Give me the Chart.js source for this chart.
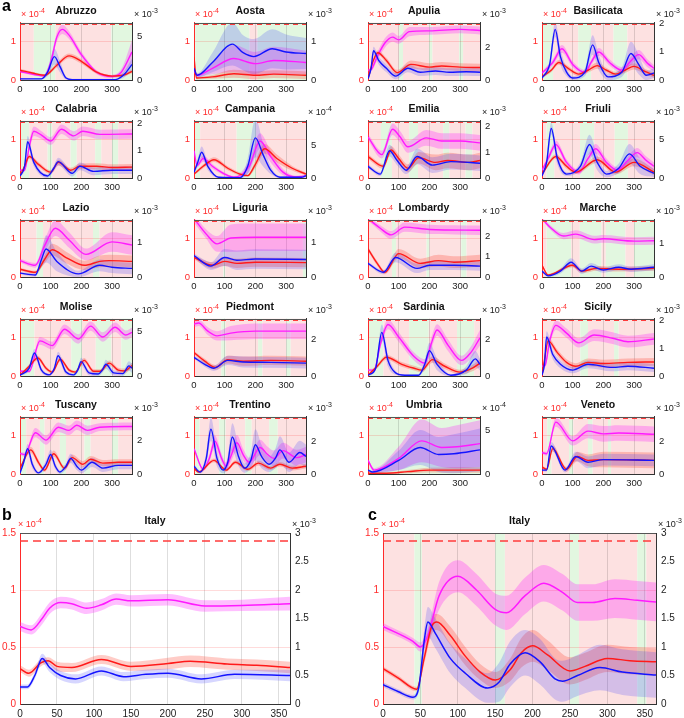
<!DOCTYPE html>
<html>
<head>
<meta charset="utf-8">
<script src="https://cdn.jsdelivr.net/npm/chart.js@4/dist/chart.umd.min.js"></script>
<style>
  body { margin: 0; width: 684px; height: 718px; position: relative; overflow: hidden; background: #fff;
         font-family: "Liberation Sans", Arial, sans-serif; }
  canvas { position: absolute; }
  .txt { position: absolute; white-space: nowrap; line-height: 1; }
  .letter { font-weight: bold; font-size: 16px; }
  .title { font-weight: bold; text-align: center; color: #111; }
  .exp sup { font-size: 7px; vertical-align: 4px; }
</style>
</head>
<body>
<script>
// ---- data: [day, value (x10^-4 on left axis), band half-width] ----
const XMAX = 365;
const threshold = 1.43;

const abruzzo_red = [[0,.25,.04],[40,.18,.03],[80,.12,.03],[120,.38,.06],[160,.62,.06],[200,.48,.06],[250,.2,.04],[300,.1,.03],[340,.13,.04],[365,.22,.05]];
const abruzzo_blue = [[0,.03,.02],[70,.03,.02],[90,.2,.1],[112,.6,.2],[130,.35,.15],[150,.05,.04],[170,.01,.02],[310,.01,.02],[340,.15,.08],[365,.4,.15]];
const abruzzo_mag = [[0,.22,.03],[40,.15,.03],[80,.11,.03],[100,.45,.1],[120,1.1,.12],[138,1.3,.12],[160,1.15,.1],[200,.65,.08],[250,.2,.05],[300,.09,.04],[330,.2,.08],[365,.72,.3]];
const abruzzo_bg = [[0,45,'r'],[45,115,'g'],[115,298,'r'],[298,365,'g']];

const aosta_red = [[0,.58,.05],[8,.05,.03],[60,.08,.05],[130,.16,.1],[200,.12,.1],[260,.15,.1],[365,.12,.1]];
const aosta_blue = [[0,.3,.05],[10,.12,.05],[60,.45,.25],[125,.92,.55],[160,.7,.45],[195,.6,.45],[255,.8,.5],[300,.72,.45],[365,.68,.4]];
const aosta_mag = [[0,.25,.04],[10,.12,.04],[60,.3,.15],[130,.55,.35],[200,.42,.3],[260,.5,.35],[365,.45,.3]];
const aosta_bg = [[0,4,'r'],[4,181,'g'],[181,207,'r'],[207,365,'g']];

const apulia_red = [[0,.02,.02],[15,.45,.05],[32,.7,.06],[60,.5,.07],[95,.19,.07],[140,.4,.1],[200,.33,.1],[240,.36,.1],[300,.33,.1],[365,.32,.1]];
const apulia_blue = [[0,.03,.02],[10,.3,.05],[18,.75,.1],[35,.5,.1],[60,.3,.1],[90,.1,.08],[130,.3,.1],[170,.2,.1],[220,.23,.1],[265,.2,.1],[320,.21,.1],[365,.2,.1]];
const apulia_mag = [[0,.25,.04],[10,.27,.05],[30,.6,.1],[55,.95,.12],[80,1.1,.12],[100,1.03,.1],[135,1.24,.12],[200,1.26,.1],[300,1.3,.1],[365,1.27,.1]];
const apulia_bg = [[0,5,'g'],[5,101,'r'],[101,114,'g'],[114,199,'r'],[199,210,'g'],[210,297,'r'],[297,310,'g'],[310,365,'r']];

const basilicata_red = [[0,.08,.03],[30,.25,.05],[55,.45,.06],[85,.3,.06],[120,.15,.05],[150,.25,.06],[180,.37,.08],[210,.25,.06],[240,.15,.06],[270,.25,.07],[300,.35,.08],[335,.22,.07],[365,.12,.06]];
const basilicata_blue = [[0,.05,.03],[25,.4,.1],[43,1.3,.2],[60,.6,.2],[80,.2,.1],[100,.05,.05],[140,.2,.1],[165,.9,.25],[185,.45,.2],[215,.08,.08],[260,.2,.12],[290,.68,.3],[315,.4,.25],[340,.12,.12],[365,.18,.12]];
const basilicata_mag = [[0,.18,.04],[35,.45,.08],[65,.8,.1],[100,.4,.08],[140,.2,.06],[160,.45,.08],[185,.72,.1],[220,.45,.08],[260,.25,.08],[285,.45,.1],[315,.65,.12],[345,.42,.1],[365,.3,.08]];
const basilicata_bg = [[0,3,'r'],[3,36,'g'],[36,118,'r'],[118,160,'g'],[160,233,'r'],[233,278,'g'],[278,365,'r']];

const calabria_red = [[0,.05,.03],[15,.3,.05],[30,.55,.06],[60,.35,.06],[100,.15,.05],[125,.4,.07],[165,.2,.06],[195,.3,.07],[250,.3,.08],[300,.27,.08],[365,.28,.08]];
const calabria_blue = [[0,.05,.03],[15,.3,.08],[25,.93,.15],[45,.4,.1],[90,.05,.05],[110,.25,.08],[125,.42,.1],[170,.12,.08],[195,.3,.1],[240,.17,.1],[300,.2,.1],[365,.2,.1]];
const calabria_mag = [[0,.2,.03],[15,.2,.04],[30,.8,.12],[45,1.2,.12],[70,1.1,.1],[100,.95,.1],[135,1.25,.12],[175,1.08,.12],[205,1.2,.12],[260,1.12,.12],[365,1.13,.12]];
const calabria_bg = [[0,30,'g'],[30,90,'r'],[90,105,'g'],[105,165,'r'],[165,185,'g'],[185,245,'r'],[245,265,'g'],[265,300,'r'],[300,320,'g'],[320,365,'r']];

const campania_red = [[0,.1,.03],[30,.3,.05],[65,.47,.06],[110,.25,.05],[150,.1,.04],[175,.06,.03],[200,.35,.1],[230,.75,.12],[270,.5,.1],[320,.25,.06],[365,.1,.04]];
const campania_blue = [[0,.15,.05],[12,.4,.1],[25,.66,.15],[45,.3,.1],[80,.02,.02],[150,.01,.02],[175,.3,.2],[200,1.03,.5],[225,.6,.3],[250,.2,.1],[280,.02,.03],[350,.02,.03],[365,.06,.04]];
const campania_mag = [[0,.7,.05],[10,.32,.05],[30,.5,.08],[60,.3,.06],[100,.1,.04],[130,.02,.03],[180,.3,.15],[215,.95,.2],[250,.55,.15],[290,.15,.08],[330,.03,.03],[365,.05,.03]];
const campania_bg = [[0,20,'g'],[20,139,'r'],[139,202,'g'],[202,365,'r']];

const emilia_red = [[0,.55,.06],[50,.3,.06],[75,.72,.1],[100,.5,.1],[130,.25,.1],[165,.52,.15],[220,.4,.2],[260,.45,.2],[330,.4,.2],[365,.45,.2]];
const emilia_blue = [[0,.3,.05],[40,.1,.05],[70,.7,.15],[95,.45,.12],[125,.2,.1],[160,.55,.2],[210,.33,.2],[270,.42,.2],[365,.38,.2]];
const emilia_mag = [[0,1.05,.08],[45,.6,.1],[80,1.25,.15],[105,1.05,.15],[130,.8,.15],[190,1.03,.2],[240,.95,.2],[300,.95,.2],[365,.9,.2]];
const emilia_bg = [[0,42,'r'],[42,78,'g'],[78,134,'r'],[134,163,'g'],[163,245,'r'],[245,265,'g'],[265,318,'r'],[318,340,'g'],[340,365,'r']];

const friuli_red = [[0,.1,.03],[45,.55,.06],[80,.3,.06],[110,.15,.05],[180,.47,.08],[240,.15,.06],[300,.4,.1],[365,.15,.08]];
const friuli_blue = [[0,.05,.03],[15,.4,.1],[30,1.27,.15],[50,.5,.15],[80,.1,.05],[125,.3,.1],[155,.86,.25],[180,.4,.2],[210,.1,.08],[250,.25,.12],[285,.62,.25],[320,.3,.2],[365,.12,.1]];
const friuli_mag = [[0,.2,.04],[20,.5,.08],[45,.86,.1],[80,.4,.08],[120,.15,.06],[150,.5,.1],[175,.75,.12],[210,.4,.1],[245,.2,.08],[280,.45,.1],[310,.65,.12],[340,.45,.1],[365,.3,.1]];
const friuli_bg = [[0,15,'r'],[15,40,'g'],[40,124,'r'],[124,170,'g'],[170,237,'r'],[237,280,'g'],[280,365,'r']];

const lazio_red = [[0,.2,.04],[50,.12,.04],[80,.45,.1],[105,.7,.15],[150,.5,.15],[210,.3,.12],[260,.4,.15],[290,.42,.15],[365,.4,.15]];
const lazio_blue = [[0,.1,.03],[50,.05,.04],[70,.45,.2],[85,.72,.35],[120,.4,.25],[190,.08,.08],[260,.3,.15],[300,.25,.15],[365,.22,.15]];
const lazio_mag = [[0,.42,.05],[50,.3,.06],[80,.8,.15],[115,1.25,.2],[160,.95,.2],[215,.58,.15],[300,.9,.25],[365,.82,.25]];
const lazio_bg = [[0,54,'r'],[54,75,'g'],[75,238,'r'],[238,259,'g'],[259,365,'r']];

const liguria_red = [[0,.5,.05],[60,.3,.08],[100,.4,.12],[140,.35,.12],[200,.38,.12],[365,.37,.12]];
const liguria_blue = [[0,.55,.05],[55,.28,.1],[100,.5,.22],[140,.43,.25],[200,.46,.25],[365,.45,.25]];
const liguria_mag = [[0,1.5,.1],[40,1.1,.12],[75,.85,.2],[120,1.0,.35],[200,1.02,.35],[365,1.02,.35]];
const liguria_bg = [[0,96,'r'],[96,102,'g'],[102,355,'r'],[355,365,'g']];

const lombardy_red = [[0,.72,.05],[30,.35,.06],[55,.12,.05],[100,.6,.12],[170,.35,.12],[230,.42,.15],[280,.38,.15],[365,.42,.15]];
const lombardy_blue = [[0,.35,.04],[50,.12,.05],[90,.5,.12],[160,.22,.12],[200,.3,.12],[280,.3,.12],[365,.28,.12]];
const lombardy_mag = [[0,1.5,.05],[40,1.25,.08],[75,1.08,.1],[120,1.28,.12],[200,1.22,.12],[365,1.2,.12]];
const lombardy_bg = [[0,78,'r'],[78,92,'g'],[92,191,'r'],[191,200,'g'],[200,304,'r'],[304,321,'g'],[321,365,'r']];

const marche_red = [[0,.3,.03],[20,.05,.03],[100,.3,.05],[130,.15,.05],[180,.22,.06],[250,.2,.06],[365,.22,.06]];
const marche_blue = [[0,.15,.03],[20,.03,.03],[60,.15,.06],[95,.38,.1],[130,.15,.07],[160,.28,.08],[200,.18,.07],[250,.25,.08],[290,.2,.07],[365,.25,.08]];
const marche_mag = [[0,1.5,.05],[30,1.25,.06],[70,1.05,.08],[110,1.1,.1],[170,.96,.1],[200,.98,.1],[300,.92,.1],[365,.93,.1]];
const marche_bg = [[0,15,'r'],[15,95,'g'],[95,123,'r'],[123,194,'g'],[194,208,'r'],[208,272,'g'],[272,300,'r'],[300,365,'g']];

const molise_red = [[0,.02,.02],[30,.25,.05],[58,.46,.06],[85,.2,.05],[105,.1,.04],[131,.43,.06],[160,.15,.05],[180,.1,.04],[209,.4,.06],[240,.12,.05],[260,.12,.05],[291,.33,.07],[320,.15,.06],[340,.13,.06],[365,.27,.07]];
const molise_blue = [[0,.02,.02],[30,.2,.06],[47,.59,.1],[70,.15,.06],[95,.03,.03],[112,.2,.06],[124,.52,.1],[150,.1,.06],[175,.03,.03],[188,.15,.06],[199,.37,.1],[225,.08,.06],[255,.05,.05],[268,.15,.07],[280,.3,.12],[305,.08,.07],[335,.06,.06],[355,.26,.12],[365,.2,.12]];
const molise_mag = [[0,.12,.03],[30,.12,.04],[65,.9,.1],[105,.78,.1],[145,1.2,.12],[190,.95,.12],[230,1.28,.12],[270,1.0,.12],[310,1.25,.12],[345,1.05,.12],[365,1.12,.12]];
const molise_bg = [[0,47,'g'],[47,167,'r'],[167,202,'g'],[202,247,'r'],[247,298,'g'],[298,330,'r'],[330,365,'g']];

const piedmont_red = [[0,.6,.04],[35,.38,.06],[70,.22,.06],[110,.42,.1],[160,.38,.12],[250,.4,.12],[365,.38,.12]];
const piedmont_blue = [[0,.48,.04],[35,.3,.06],[65,.2,.07],[110,.4,.12],[160,.36,.14],[250,.35,.14],[365,.33,.14]];
const piedmont_mag = [[0,1.33,.08],[15,1.36,.08],[45,1.15,.1],[75,1.03,.12],[120,1.1,.18],[200,1.15,.2],[365,1.15,.2]];
const piedmont_bg = [[0,89,'r'],[89,103,'g'],[103,209,'r'],[209,223,'g'],[223,301,'r'],[301,315,'g'],[315,365,'r']];

const sardinia_red = [[0,.02,.02],[30,.25,.05],[60,.48,.06],[110,.3,.06],[150,.2,.06],[175,.15,.06],[210,.42,.08],[250,.25,.07],[300,.1,.06],[340,.2,.08],[365,.33,.1]];
const sardinia_blue = [[0,.02,.02],[25,.2,.06],[45,1.12,.2],[65,.4,.15],[90,.08,.05],[120,.02,.02],[165,.02,.02],[185,.3,.12],[200,.65,.2],[225,.3,.15],[270,.02,.03],[320,.15,.1],[350,.44,.2],[365,.3,.15]];
const sardinia_mag = [[0,.15,.03],[20,.15,.04],[40,.8,.1],[65,1.32,.12],[100,1.0,.12],[150,.5,.1],[185,.33,.1],[205,.8,.15],[225,1.18,.15],[260,.8,.15],[305,.4,.12],[335,.6,.15],[365,.98,.2]];
const sardinia_bg = [[0,50,'g'],[50,134,'r'],[134,198,'g'],[198,290,'r'],[290,346,'g'],[346,365,'r']];

const sicily_red = [[0,.02,.02],[8,.4,.06],[20,.9,.08],[50,.6,.08],[80,.35,.08],[110,.25,.08],[150,.35,.1],[200,.32,.1],[280,.35,.1],[365,.36,.1]];
const sicily_blue = [[0,.02,.02],[8,.3,.08],[15,1.0,.15],[35,.55,.12],[60,.3,.1],[100,.15,.08],[150,.3,.1],[230,.22,.1],[280,.25,.1],[365,.2,.1]];
const sicily_mag = [[0,.25,.04],[10,.27,.05],[25,.9,.12],[45,1.3,.12],[80,1.1,.12],[120,.85,.12],[170,1.05,.15],[230,.97,.15],[280,.88,.15],[365,.95,.15]];
const sicily_bg = [[0,125,'r'],[125,150,'g'],[150,235,'r'],[235,250,'g'],[250,365,'r']];

const tuscany_red = [[0,.15,.03],[35,.62,.08],[60,.3,.07],[80,.1,.05],[110,.52,.08],[145,.15,.06],[170,.42,.08],[205,.25,.08],[230,.38,.08],[270,.28,.08],[320,.3,.08],[365,.3,.08]];
const tuscany_blue = [[0,.02,.02],[12,.3,.08],[25,.65,.12],[40,.25,.1],[60,.03,.03],[85,.25,.1],[100,.5,.12],[115,.2,.08],[130,.05,.05],[150,.2,.08],[165,.4,.12],[185,.2,.1],[200,.1,.08],[235,.3,.12],[270,.15,.1],[320,.22,.1],[365,.22,.1]];
const tuscany_mag = [[0,.53,.04],[15,.5,.05],[50,1.06,.12],[85,.87,.12],[125,1.2,.12],[160,1.12,.12],[185,1.25,.12],[220,1.12,.12],[260,1.2,.1],[365,1.22,.1]];
const tuscany_bg = [[0,20,'g'],[20,65,'r'],[65,80,'g'],[80,130,'r'],[130,150,'g'],[150,210,'r'],[210,230,'g'],[230,300,'r'],[300,320,'g'],[320,365,'r']];

const trentino_red = [[0,.15,.03],[15,.05,.03],[65,.35,.05],[105,.1,.04],[135,.3,.05],[175,.12,.05],[210,.28,.06],[250,.15,.05],[280,.25,.06],[320,.15,.06],[365,.2,.06]];
const trentino_blue = [[0,.2,.05],[20,.05,.04],[40,.4,.15],[55,1.15,.3],[75,.4,.2],[95,.1,.08],[110,.3,.15],[125,.95,.35],[145,.45,.25],[165,.15,.12],[185,.35,.2],[200,.75,.4],[220,.45,.3],[245,.25,.2],[265,.4,.25],[280,.62,.35],[310,.3,.25],[345,.55,.3],[365,.45,.3]];
const trentino_mag = [[0,.65,.05],[30,.12,.04],[50,.4,.1],[68,.84,.15],[90,.4,.12],[105,.2,.1],[120,.45,.15],[140,.8,.2],[160,.5,.15],[180,.3,.12],[215,.68,.2],[240,.5,.2],[260,.4,.2],[290,.6,.2],[335,.42,.2],[365,.5,.2]];
const trentino_bg = [[0,18,'g'],[18,82,'r'],[82,103,'g'],[103,167,'r'],[167,188,'g'],[188,245,'r'],[245,273,'g'],[273,365,'r']];

const umbria_red = [[0,.02,.02],[60,.02,.02],[130,.06,.04],[200,.1,.06],[365,.1,.07]];
const umbria_blue = [[0,.1,.03],[15,.05,.04],[100,.35,.25],[170,.68,.45],[230,.5,.45],[280,.52,.5],[365,.62,.55]];
const umbria_mag = [[0,.35,.04],[20,.1,.05],[100,.4,.3],[175,.85,.55],[240,.68,.5],[290,.7,.55],[365,.78,.6]];
const umbria_bg = [[0,365,'g']];

const veneto_red = [[0,.18,.04],[15,.12,.04],[35,.65,.08],[80,.12,.06],[115,.45,.12],[150,.35,.15],[200,.37,.2],[365,.35,.2]];
const veneto_blue = [[0,.1,.03],[15,.1,.04],[30,.72,.1],[75,.1,.06],[110,.45,.12],[150,.3,.15],[200,.37,.15],[365,.35,.15]];
const veneto_mag = [[0,.55,.04],[15,.52,.05],[45,1.33,.12],[100,.85,.12],[150,1.1,.18],[200,1.03,.2],[250,1.05,.2],[365,1.02,.2]];
const veneto_bg = [[0,17,'r'],[17,31,'g'],[31,88,'r'],[88,102,'g'],[102,150,'r'],[150,165,'g'],[165,215,'r'],[215,225,'g'],[225,365,'r']];

const italyB_red = [[0,.31,.03],[12,.27,.03],[28,.36,.03],[38,.38,.03],[50,.33,.04],[70,.32,.04],[110,.39,.04],[150,.33,.04],[200,.355,.05],[230,.375,.05],[280,.35,.05],[320,.34,.05],[365,.32,.05]];
const italyB_blue = [[0,.15,.02],[10,.15,.02],[20,.25,.03],[30,.4,.04],[40,.32,.04],[55,.25,.04],[75,.22,.04],[110,.29,.04],[140,.24,.04],[170,.26,.04],[200,.27,.04],[245,.22,.04],[290,.26,.04],[365,.25,.05]];
const italyB_mag = [[0,.68,.04],[15,.65,.04],[30,.75,.05],[40,.84,.05],[55,.89,.05],[70,.88,.05],[90,.84,.05],[110,.87,.05],[130,.92,.05],[150,.905,.05],[200,.915,.05],[250,.86,.05],[300,.865,.05],[365,.88,.06]];

const italyC_red = [[0,.31,.02],[20,.23,.02],[45,.13,.02],[55,.4,.05],[65,.68,.07],[72,.72,.07],[90,.6,.08],[110,.42,.08],[130,.28,.07],[150,.21,.07],[170,.3,.1],[185,.45,.13],[200,.51,.14],[220,.43,.13],[250,.29,.12],[270,.33,.12],[300,.4,.12],[330,.38,.12],[365,.37,.12]];
const italyC_blue = [[0,.17,.02],[20,.11,.02],[40,.06,.02],[48,.15,.04],[55,.55,.1],[60,.72,.13],[70,.62,.13],[90,.4,.13],[110,.27,.13],[140,.14,.13],[155,.19,.17],[170,.35,.2],[190,.45,.2],[210,.37,.2],[230,.22,.18],[240,.2,.18],[260,.25,.18],[290,.32,.2],[320,.28,.2],[365,.255,.2]];
const italyC_mag = [[0,.68,.03],[40,.55,.03],[50,.5,.04],[60,.6,.06],[75,.95,.12],[100,1.12,.14],[125,1.0,.14],[150,.83,.14],[165,.8,.15],[190,.95,.16],[215,1.06,.16],[240,.98,.16],[260,.89,.16],[280,.89,.16],[310,.925,.17],[340,.91,.17],[365,.895,.17]];
const italyC_bg = [[0,42,'r'],[42,52,'g'],[52,150,'r'],[150,163,'g'],[163,250,'r'],[250,262,'g'],[262,340,'r'],[340,352,'g'],[352,365,'r']];

const regionNames = ['Abruzzo','Aosta','Apulia','Basilicata','Calabria','Campania','Emilia','Friuli','Lazio','Liguria',
  'Lombardy','Marche','Molise','Piedmont','Sardinia','Sicily','Tuscany','Trentino','Umbria','Veneto'];
const regionSeries = [
  [abruzzo_red, abruzzo_blue, abruzzo_mag, abruzzo_bg],
  [aosta_red, aosta_blue, aosta_mag, aosta_bg],
  [apulia_red, apulia_blue, apulia_mag, apulia_bg],
  [basilicata_red, basilicata_blue, basilicata_mag, basilicata_bg],
  [calabria_red, calabria_blue, calabria_mag, calabria_bg],
  [campania_red, campania_blue, campania_mag, campania_bg],
  [emilia_red, emilia_blue, emilia_mag, emilia_bg],
  [friuli_red, friuli_blue, friuli_mag, friuli_bg],
  [lazio_red, lazio_blue, lazio_mag, lazio_bg],
  [liguria_red, liguria_blue, liguria_mag, liguria_bg],
  [lombardy_red, lombardy_blue, lombardy_mag, lombardy_bg],
  [marche_red, marche_blue, marche_mag, marche_bg],
  [molise_red, molise_blue, molise_mag, molise_bg],
  [piedmont_red, piedmont_blue, piedmont_mag, piedmont_bg],
  [sardinia_red, sardinia_blue, sardinia_mag, sardinia_bg],
  [sicily_red, sicily_blue, sicily_mag, sicily_bg],
  [tuscany_red, tuscany_blue, tuscany_mag, tuscany_bg],
  [trentino_red, trentino_blue, trentino_mag, trentino_bg],
  [umbria_red, umbria_blue, umbria_mag, umbria_bg],
  [veneto_red, veneto_blue, veneto_mag, veneto_bg],
];
// right axis (other scale) per region
const rightMax = [6.5, 1.47, 3.5, 2.03, 2.1, 8.8, 2.2, 7.5, 1.67, 1.67, 2.82, 1.72, 6.4, 3.1, 3.1, 2.05, 3.42, 3.5, 6.6, 3.5];
const rightTicks = [[0,5],[0,1],[0,2],[0,1,2],[0,1,2],[0,5],[0,1,2],[0,5],[0,1],[0,1],
  [0,1,2],[0,1],[0,5],[0,2],[0,2],[0,1,2],[0,2],[0,2],[0,5],[0,2]];
const rightExp = [-3,-3,-3,-3,-3,-4,-3,-3,-3,-3,-3,-3,-3,-3,-3,-3,-3,-3,-4,-3];

const smallXTicks = [0, 100, 200, 300];
const bigXTicks = [0, 50, 100, 150, 200, 250, 300, 350];
const smallLeftTicks = [0, 1];
const bigLeftTicks = [0, 0.5, 1, 1.5];
const bigRightTicks = [0, 0.5, 1, 1.5, 2, 2.5, 3];

// ---- look ----
Chart.defaults.font.family = '"Liberation Sans", Arial, sans-serif';
const RED = '#ff1a1a', BLUE = '#1414ff', MAG = '#ff1aff';
const RED_BAND = 'rgba(255,50,30,0.25)', BLUE_BAND = 'rgba(50,50,255,0.2)', MAG_BAND = 'rgba(255,20,255,0.27)';
const BG = { r: '#fde1e1', g: '#e2f7e0' };

const colLeft = [20, 194, 368, 542];
const rowTop = [20, 118, 217, 316, 414];
const boxW = 112, boxH = 60;

const shadePlugin = {
  id: 'shade',
  beforeDraw(chart, args, opts) {
    const { ctx, chartArea: a, scales: { x } } = chart;
    ctx.save();
    (opts.segs || []).forEach(([s, e, c]) => {
      const x0 = x.getPixelForValue(s), x1 = x.getPixelForValue(e);
      ctx.fillStyle = BG[c];
      ctx.fillRect(x0, a.top, x1 - x0, a.bottom - a.top);
    });
    ctx.restore();
  },
  afterDraw(chart) {
    const { ctx, chartArea: a } = chart;
    ctx.save();
    ctx.strokeStyle = '#555';
    ctx.lineWidth = 1;
    ctx.beginPath();
    ctx.moveTo(a.left, Math.round(a.top) + 0.5);
    ctx.lineTo(a.right, Math.round(a.top) + 0.5);
    ctx.stroke();
    ctx.restore();
  }
};

function series(pts, line, band, lw, ord) {
  return [
    { data: pts.map(p => ({ x: p[0], y: p[1] - p[2] })), borderWidth: 0, pointRadius: 0, fill: false, order: 10 + ord },
    { data: pts.map(p => ({ x: p[0], y: p[1] + p[2] })), borderWidth: 0, pointRadius: 0, fill: '-1', backgroundColor: band, order: 10 + ord },
    { data: pts.map(p => ({ x: p[0], y: p[1] })), borderColor: line, borderWidth: lw, pointRadius: 0, fill: false, order: ord },
  ];
}

function addCanvas(left, top, w, h) {
  const c = document.createElement('canvas');
  c.width = w; c.height = h;
  c.style.left = left + 'px'; c.style.top = top + 'px';
  document.body.appendChild(c);
  return c;
}

function addText(cls, html, style) {
  const d = document.createElement('div');
  d.className = 'txt ' + cls;
  d.innerHTML = html;
  Object.assign(d.style, style);
  document.body.appendChild(d);
}

const plainNum = v => String(v);

function panel(o) {
  const padL = 22, padR = o.big ? 26 : 24, padT = 8, padB = o.big ? 18 : 16;
  const cv = addCanvas(o.left - padL, o.top - padT, o.w + padL + padR, o.h + padT + padB);
  const lw = o.big ? 1.5 : 1.4;
  const fs = o.big ? 10 : 9.5;
  const datasets = [
    { data: [{ x: 0, y: threshold }, { x: XMAX, y: threshold }], borderColor: '#ff3b3b', borderWidth: 1.4,
      borderDash: o.big ? [8, 5] : [5, 4], pointRadius: 0, fill: false, order: 0 },
    ...series(o.red, RED, RED_BAND, lw, 2),
    ...series(o.mag, MAG, MAG_BAND, lw, 3),
    ...series(o.blue, BLUE, BLUE_BAND, lw, 1),
  ];
  new Chart(cv, {
    type: 'line',
    data: { datasets },
    options: {
      responsive: false, animation: false, events: [],
      layout: { padding: { top: padT, left: 0, right: 0, bottom: 0 } },
      elements: { line: { cubicInterpolationMode: 'monotone' } },
      plugins: { legend: { display: false }, tooltip: { enabled: false }, shade: { segs: o.bg } },
      scales: {
        x: {
          type: 'linear', min: 0, max: XMAX,
          afterBuildTicks: s => { s.ticks = o.xTicks.map(v => ({ value: v })); },
          afterFit: s => { s.height = padB; },
          grid: { color: 'rgba(0,0,0,0.13)', drawTicks: false },
          border: { color: '#333' },
          ticks: { padding: 4, maxRotation: 0, autoSkip: false, color: '#222', font: { size: fs }, callback: plainNum }
        },
        y: {
          position: 'left', min: 0, max: o.ymax,
          afterBuildTicks: s => { s.ticks = o.leftTicks.map(v => ({ value: v })); },
          afterFit: s => { s.width = padL; },
          grid: { color: 'rgba(255,0,0,0.14)', drawTicks: false },
          border: { color: '#ff2a2a' },
          ticks: { padding: 4, color: '#ff2a2a', font: { size: fs }, callback: plainNum }
        },
        y2: {
          position: 'right', min: 0, max: o.rmax,
          afterBuildTicks: s => { s.ticks = o.rightTicks.map(v => ({ value: v })); },
          afterFit: s => { s.width = padR; },
          grid: { display: false, drawTicks: false },
          border: { color: '#333' },
          ticks: { padding: 5, color: '#222', font: { size: fs }, callback: plainNum }
        }
      }
    },
    plugins: [shadePlugin]
  });

  addText('title', o.title, { left: o.left + 'px', width: o.w + 'px', top: (o.top - 15) + 'px', fontSize: '10.5px' });
  addText('exp', '× 10<sup>-4</sup>', { left: (o.left - (o.big ? 2 : -1)) + 'px', top: (o.top - 13) + 'px', fontSize: '9px', color: '#ff2a2a' });
  addText('exp', '× 10<sup>' + o.rexp + '</sup>', { left: (o.left + o.w + 2) + 'px', top: (o.top - 13) + 'px', fontSize: '9px', color: '#222' });
}

regionNames.forEach((name, i) => {
  const [red, blue, mag, bg] = regionSeries[i];
  panel({
    title: name, left: colLeft[i % 4], top: rowTop[Math.floor(i / 4)], w: boxW, h: boxH,
    red, blue, mag, bg, ymax: 1.47, rmax: rightMax[i], rexp: rightExp[i],
    xTicks: smallXTicks, leftTicks: smallLeftTicks, rightTicks: rightTicks[i], big: false
  });
});

panel({
  title: 'Italy', left: 20, top: 530, w: 270, h: 174,
  red: italyB_red, blue: italyB_blue, mag: italyB_mag, bg: [], ymax: 1.5, rmax: 3, rexp: -3,
  xTicks: bigXTicks, leftTicks: bigLeftTicks, rightTicks: bigRightTicks, big: true
});
panel({
  title: 'Italy', left: 383, top: 530, w: 273, h: 174,
  red: italyC_red, blue: italyC_blue, mag: italyC_mag, bg: italyC_bg, ymax: 1.5, rmax: 3, rexp: -3,
  xTicks: bigXTicks, leftTicks: bigLeftTicks, rightTicks: bigRightTicks, big: true
});

addText('letter', 'a', { left: '2px', top: '-2px' });
addText('letter', 'b', { left: '2px', top: '507px' });
addText('letter', 'c', { left: '368px', top: '507px' });
</script>
</body>
</html>
